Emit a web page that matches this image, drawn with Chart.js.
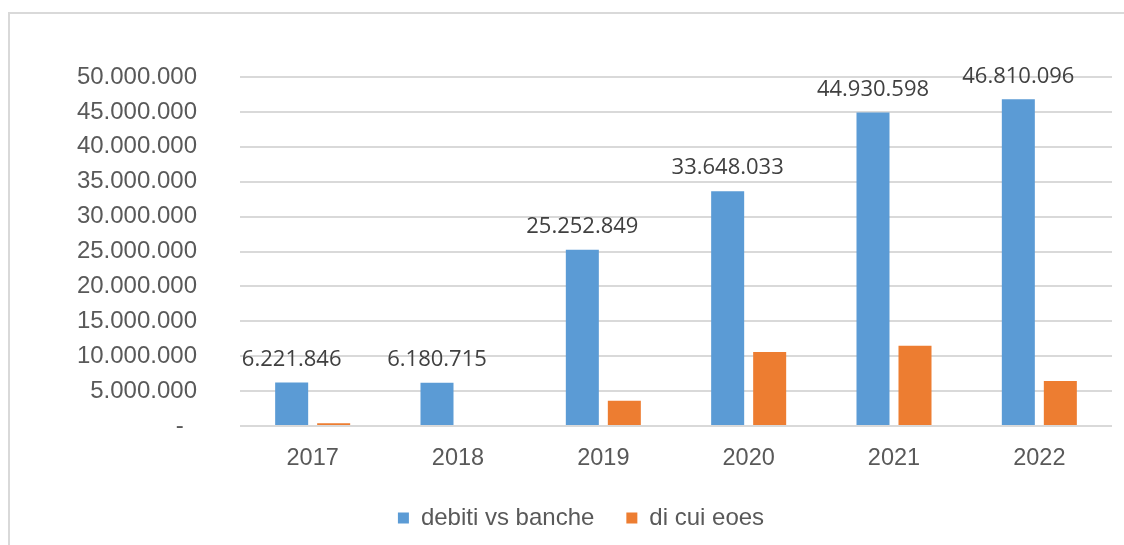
<!DOCTYPE html>
<html>
<head>
<meta charset="utf-8">
<script src="https://cdn.jsdelivr.net/npm/chart.js@4/dist/chart.umd.min.js"></script>
<style>
  html, body { margin: 0; padding: 0; background: #fff; overflow: hidden; }
  #frame { position: absolute; left: 8px; top: 12px; width: 1200px; height: 600px; border: 2px solid #d9d9d9; box-sizing: border-box; }
  #wrap { position: absolute; left: 0; top: 0; width: 1124px; height: 545px; }
</style>
</head>
<body>
<div id="frame"></div>
<div id="wrap"><canvas id="c" width="1124" height="545"></canvas></div>
<script>
const categories = ["2017", "2018", "2019", "2020", "2021", "2022"];
const debitiVsBanche = [6221846, 6180715, 25252849, 33648033, 44930598, 46810096];
const diCuiEoes = [400000, 0, 3600000, 10600000, 11500000, 6450000];
const seriesNames = ["debiti vs banche", "di cui eoes"];
const yTicks = [0, 5000000, 10000000, 15000000, 20000000, 25000000, 30000000, 35000000, 40000000, 45000000, 50000000];

function fmt(v) {
  return String(Math.round(v)).replace(/\B(?=(\d{3})+(?!\d))/g, ".");
}

const valueLabels = {
  id: "valueLabels",
  afterDatasetsDraw(chart) {
    const ctx = chart.ctx;
    const meta = chart.getDatasetMeta(0);
    ctx.save();
    ctx.font = "22px 'Open Sans'";
    ctx.fillStyle = "#404040";
    ctx.textAlign = "center";
    ctx.textBaseline = "bottom";
    meta.data.forEach((bar, i) => {
      ctx.fillText(fmt(debitiVsBanche[i]), bar.x, bar.y - 12);
    });
    ctx.restore();
  }
};

new Chart(document.getElementById("c"), {
  type: "bar",
  data: {
    labels: categories,
    datasets: [
      { label: seriesNames[0], data: debitiVsBanche, backgroundColor: "#5b9bd5", barPercentage: 0.786, categoryPercentage: 0.578 },
      { label: seriesNames[1], data: diCuiEoes, backgroundColor: "#ed7d31", barPercentage: 0.786, categoryPercentage: 0.578 }
    ]
  },
  options: {
    responsive: false,
    animation: false,
    events: [],
    layout: { padding: { top: 77, right: 12, bottom: 5, left: 50 } },
    plugins: {
      tooltip: { enabled: false },
      legend: {
        position: "bottom",
        labels: {
          font: { family: "'Liberation Sans', Arial", size: 24 },
          color: "#595959",
          boxWidth: 11,
          boxHeight: 11,
          padding: 32
        }
      }
    },
    scales: {
      x: {
        grid: { display: false, drawTicks: false },
        border: { display: false },
        ticks: { font: { family: "'Liberation Sans', Arial", size: 23.5 }, color: "#595959", padding: 18 },
        afterFit(s) { s.height = 48; }
      },
      y: {
        min: 0,
        max: 50000000,
        afterBuildTicks(s) { s.ticks = yTicks.map(v => ({ value: v })); },
        grid: { color: "#d9d9d9", lineWidth: 2, drawTicks: false },
        border: { display: false },
        ticks: {
          font: { family: "'Liberation Sans', Arial", size: 24 },
          color: "#595959",
          padding: 43,
          callback: (v) => v === 0 ? "-  " : fmt(v)
        },
        afterFit(s) { s.width = 190; }
      }
    }
  },
  plugins: [valueLabels]
});
</script>
</body>
</html>
